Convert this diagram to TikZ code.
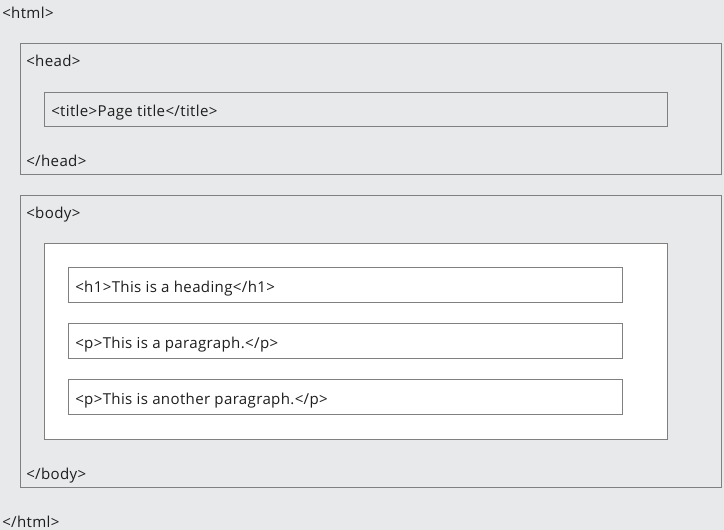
\documentclass[tikz,border=0pt]{standalone}
\usepackage{fontspec}
\setmainfont{Open Sans}[LetterSpace=2.3]
\definecolor{pagebg}{HTML}{E8E9EB}
\definecolor{edge}{HTML}{808080}
\definecolor{ink}{HTML}{1E1E1E}
\tikzset{
  box/.style={draw=edge, line width=0.75pt},
  tag/.style={anchor=base west, inner sep=0pt, text=ink, font=\fontsize{11.3}{13}\selectfont}
}
\begin{document}
\begin{tikzpicture}[x=0.75pt,y=-0.75pt]
		\fill[pagebg] (0,0) rectangle (724,530);
		\useasboundingbox (0,0) rectangle (724,530);
		% head
		\draw[box] (20,44) rectangle (721,175);
		\draw[box] (44,93) rectangle (667,127);
		% body
		\draw[box] (20,196) rectangle (721,487);
		\draw[box, fill=white] (44,244) rectangle (667,439);
		\foreach \y in {268,324,380}
		{
			\draw[box, fill=white] (68,\y) rectangle (622,\y + 35);
		}
		\node[tag] (htmlopen) at (2,19) {<html>};
		\node[tag] (headopen) at (26,67) {<head>};
		\node[tag] (title) at (51,117) {<title>Page title</title>};
		\node[tag] (headclose) at (26,167) {</head>};
		\node[tag] (bodyopen) at (26,219) {<body>};
		\node[tag] (heading) at (75,293) {<h1>This is a heading</h1>};
		\node[tag] (para) at (75,349) {<p>This is a paragraph.</p>};
		\node[tag] (paratwo) at (75,405) {<p>This is another paragraph.</p>};
		\node[tag] (bodyclose) at (26,479) {</body>};
		\node[tag] (htmlclose) at (2,527) {</html>};
\end{tikzpicture}
\end{document}
